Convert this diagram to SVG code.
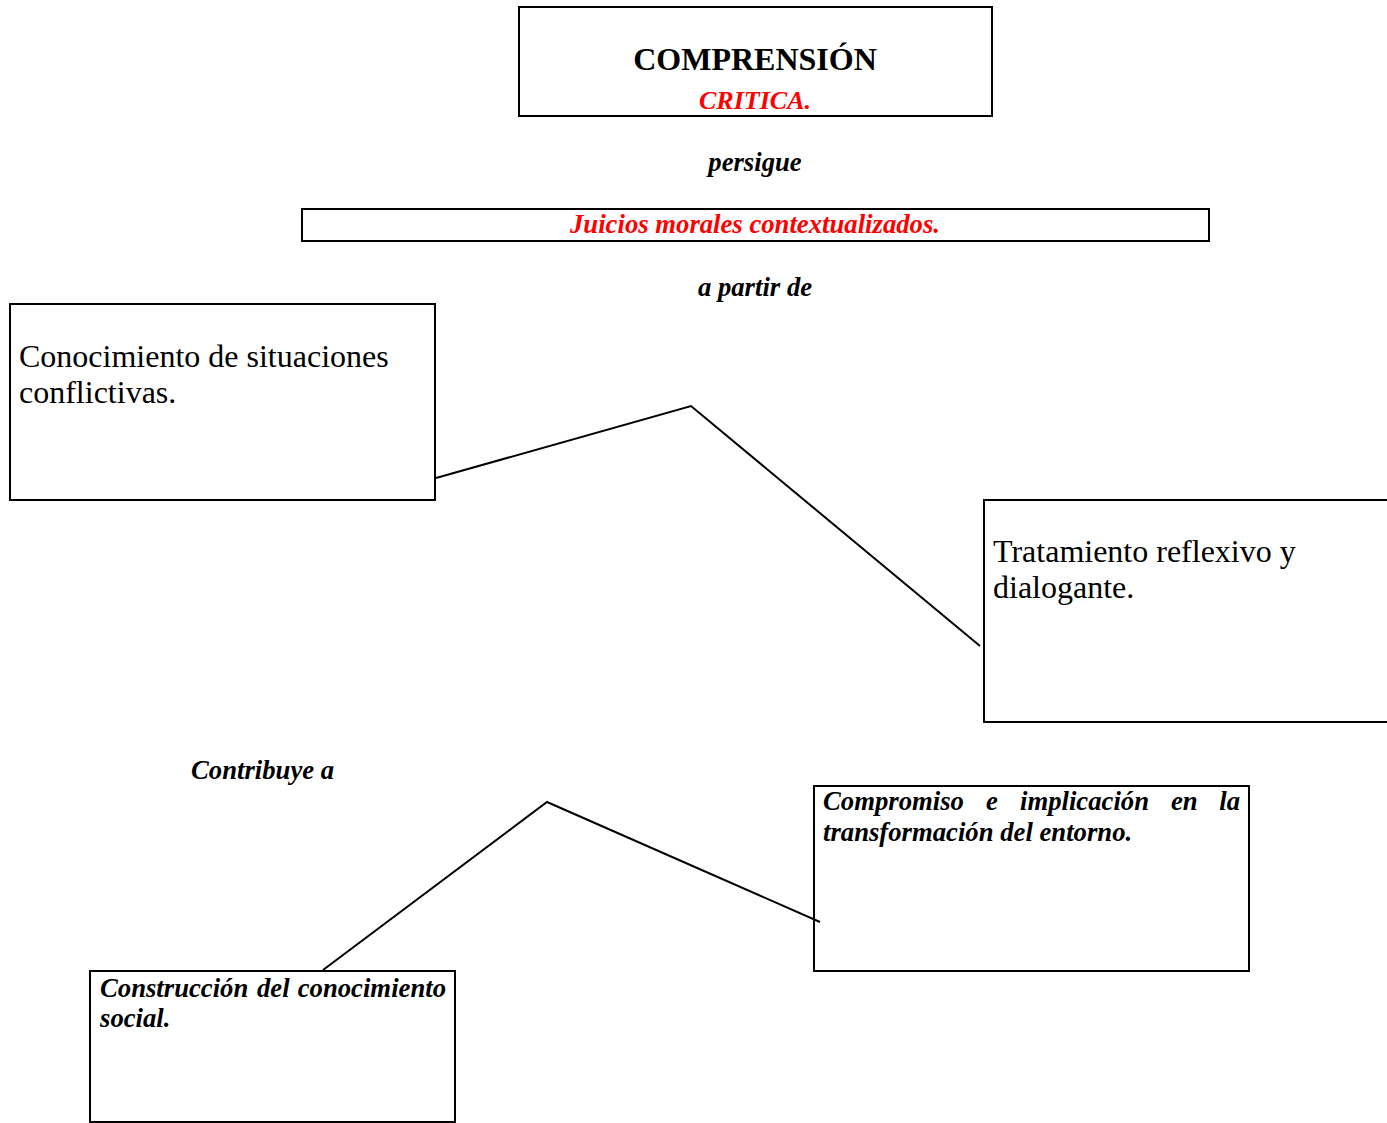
<svg xmlns="http://www.w3.org/2000/svg" width="1387" height="1123" viewBox="0 0 1387 1123">
<style>
.box{fill:#fff;stroke:#000;stroke-width:2}
.bi{font-weight:bold;font-style:italic}
.red{fill:#ff0000}
.conn{fill:none;stroke:#000;stroke-width:2}
</style>
<rect width="1387" height="1123" fill="#fff"/>
<g id="comprension">
<rect class="box" x="519" y="7" width="473" height="109"/>
<text font-family="Liberation Serif" x="755" y="70" font-size="32" font-weight="bold" text-anchor="middle">COMPRENSIÓN</text>
<text font-family="Liberation Serif" class="bi red" x="755" y="109" font-size="26" text-anchor="middle">CRITICA.</text>
</g>
<g id="label-persigue">
<text font-family="Liberation Serif" class="bi" x="755" y="171" font-size="26.7" text-anchor="middle">persigue</text>
</g>
<g id="juicios">
<rect class="box" x="302" y="209" width="907" height="32"/>
<text font-family="Liberation Serif" class="bi red" x="755" y="233" font-size="26.7" text-anchor="middle">Juicios morales contextualizados.</text>
</g>
<g id="label-apartir">
<text font-family="Liberation Serif" class="bi" x="755" y="296" font-size="26.7" text-anchor="middle">a partir de</text>
</g>
<g id="conocimiento">
<rect class="box" x="10" y="304" width="425" height="196"/>
<text font-family="Liberation Serif" x="19" y="367" font-size="32">Conocimiento de situaciones</text>
<text font-family="Liberation Serif" x="19" y="403" font-size="32">conflictivas.</text>
</g>
<g id="tratamiento">
<rect class="box" x="984" y="500" width="415" height="222"/>
<text font-family="Liberation Serif" x="993" y="562" font-size="32">Tratamiento reflexivo y</text>
<text font-family="Liberation Serif" x="993" y="598" font-size="32">dialogante.</text>
</g>
<g id="label-contribuye">
<text font-family="Liberation Serif" class="bi" x="191" y="779" font-size="26.7">Contribuye a</text>
</g>
<g id="compromiso">
<rect class="box" x="814" y="786" width="435" height="185"/>
<text font-family="Liberation Serif" class="bi" y="810" font-size="26.7"><tspan x="823">Compromiso</tspan><tspan x="986">e</tspan><tspan x="1020">implicación</tspan><tspan x="1171">en</tspan><tspan x="1240" text-anchor="end">la</tspan></text>
<text font-family="Liberation Serif" class="bi" x="823" y="841" font-size="26.7">transformación del entorno.</text>
</g>
<g id="construccion">
<rect class="box" x="90" y="971" width="365" height="151"/>
<text font-family="Liberation Serif" class="bi" y="997" font-size="26.7"><tspan x="100">Construcción</tspan><tspan x="257">del</tspan><tspan x="446" text-anchor="end">conocimiento</tspan></text>
<text font-family="Liberation Serif" class="bi" x="100" y="1027" font-size="26.7">social.</text>
</g>
<g id="connectors">
<polyline class="conn" points="436,478 691,406 980,646"/>
<polyline class="conn" points="323,970 547,802 820,922"/>
</g>
</svg>
